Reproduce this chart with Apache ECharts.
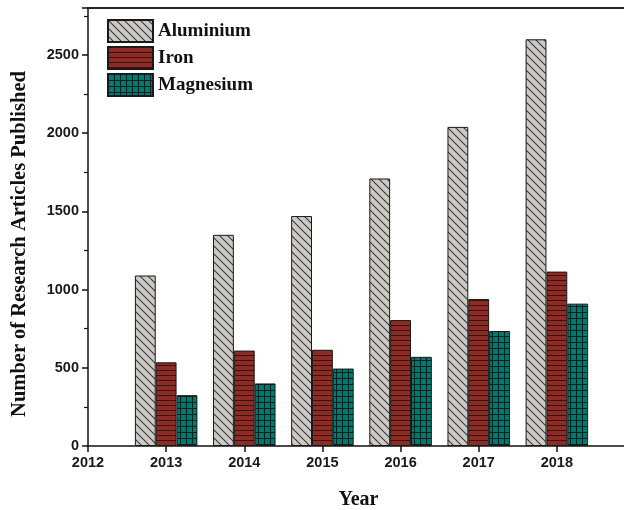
<!DOCTYPE html>
<html>
<head>
<meta charset="utf-8">
<script src="https://cdn.jsdelivr.net/npm/echarts@6/dist/echarts.min.js"></script>
<style>
  html, body { margin: 0; padding: 0; background: #fff; }
  #chart { width: 624px; height: 510px; }
</style>
</head>
<body>
<div id="chart"></div>
<script>
// values
var years = [2013, 2014, 2015, 2016, 2017, 2018];
var aluminium = [1090, 1350, 1470, 1710, 2040, 2600];
var iron = [535, 610, 615, 805, 940, 1115];
var magnesium = [325, 400, 495, 570, 735, 910];
var seriesNames = ['Aluminium', 'Iron', 'Magnesium'];

// fill patterns (hatch tiles)
function makeTile(w, h, bg, draw) {
    var c = document.createElement('canvas');
    c.width = w;
    c.height = h;
    var ctx = c.getContext('2d');
    ctx.fillStyle = bg;
    ctx.fillRect(0, 0, w, h);
    draw(ctx, w, h);
    return { image: c, repeat: 'repeat' };
}

var diagFill = makeTile(8, 8, '#cdc9c5', function (ctx, w, h) {
    ctx.strokeStyle = '#3a3a3a';
    ctx.lineWidth = 1.1;
    ctx.beginPath();
    ctx.moveTo(-2, -2); ctx.lineTo(w + 2, h + 2);
    ctx.moveTo(-2, h - 2); ctx.lineTo(2, h + 2);
    ctx.moveTo(w - 2, -2); ctx.lineTo(w + 2, 2);
    ctx.stroke();
});
var stripeFill = makeTile(8, 5, '#8c2c24', function (ctx, w, h) {
    ctx.fillStyle = '#3b100d';
    ctx.fillRect(0, 0, w, 1);
});
var gridFill = makeTile(6, 6, '#00796e', function (ctx, w, h) {
    ctx.fillStyle = '#0d1f1d';
    ctx.fillRect(0, 0, w, 1);
    ctx.fillRect(0, 0, 1, h);
});
var fills = [diagFill, stripeFill, gridFill];
var values = [aluminium, iron, magnesium];

var series = [];
for (var i = 0; i < seriesNames.length; i++) {
    series.push({
        name: seriesNames[i],
        type: 'bar',
        barGap: 0,
        barCategoryGap: '20%',
        data: years.map(function (y, k) { return [y, values[i][k]]; }),
        itemStyle: {
            color: fills[i],
            borderColor: '#1a1a1a',
            borderWidth: 1
        }
    });
}

var labelFont = { fontFamily: 'Liberation Sans', fontWeight: 'bold', fontSize: 14.5, color: '#1a1a1a' };
var titleFont = { fontFamily: 'Liberation Serif', fontWeight: 'bold', color: '#111' };

var myChart = echarts.init(document.getElementById('chart'), null, { renderer: 'canvas' });
var option = {
    backgroundColor: '#ffffff',
    animation: false,
    grid: { left: 88, top: 8, right: -11, bottom: 64, containLabel: false, outerBoundsMode: 'none' },
    legend: {
        data: seriesNames,
        orient: 'vertical',
        left: 107,
        top: 19,
        padding: 0,
        itemWidth: 45,
        itemHeight: 22,
        itemGap: 3,
        icon: 'rect',
        textStyle: Object.assign({ fontSize: 19 }, titleFont)
    },
    xAxis: [
        {
            type: 'value',
            min: 2012,
            max: 2019,
            interval: 1,
            name: 'Year',
            nameLocation: 'middle',
            nameGap: 44,
            nameTextStyle: Object.assign({ fontSize: 20, padding: [0, 6, 0, 0] }, titleFont),
            axisLine: { lineStyle: { color: '#111', width: 1.5 } },
            axisTick: { show: true, inside: false, length: 6, lineStyle: { color: '#111', width: 1.5 } },
            axisLabel: Object.assign({ margin: 9, formatter: function (v) { return v > 2018 ? '' : String(v); } }, labelFont),
            splitLine: { show: false }
        },
        {
            type: 'value',
            position: 'top',
            min: 2012,
            max: 2019,
            axisLine: { show: true, onZero: false, lineStyle: { color: '#222', width: 2 } },
            axisTick: { show: false },
            axisLabel: { show: false },
            splitLine: { show: false }
        }
    ],
    yAxis: {
        type: 'value',
        min: 0,
        max: 2800,
        interval: 500,
        name: 'Number of Research Articles Published',
        nameLocation: 'middle',
        nameGap: 58,
        nameTextStyle: Object.assign({ fontSize: 20.5, padding: [0, 34, 0, 0] }, titleFont),
        axisLine: { show: true, lineStyle: { color: '#111', width: 1.5 } },
        axisTick: { show: true, inside: false, length: 6, lineStyle: { color: '#111', width: 1.5 } },
        minorTick: { show: true, splitNumber: 2, length: 4, lineStyle: { color: '#111', width: 1.2 } },
        axisLabel: Object.assign({ margin: 9, formatter: function (v) { return v > 2500 ? '' : String(v); } }, labelFont),
        splitLine: { show: false }
    },
    series: series
};
myChart.setOption(option);
</script>
</body>
</html>
